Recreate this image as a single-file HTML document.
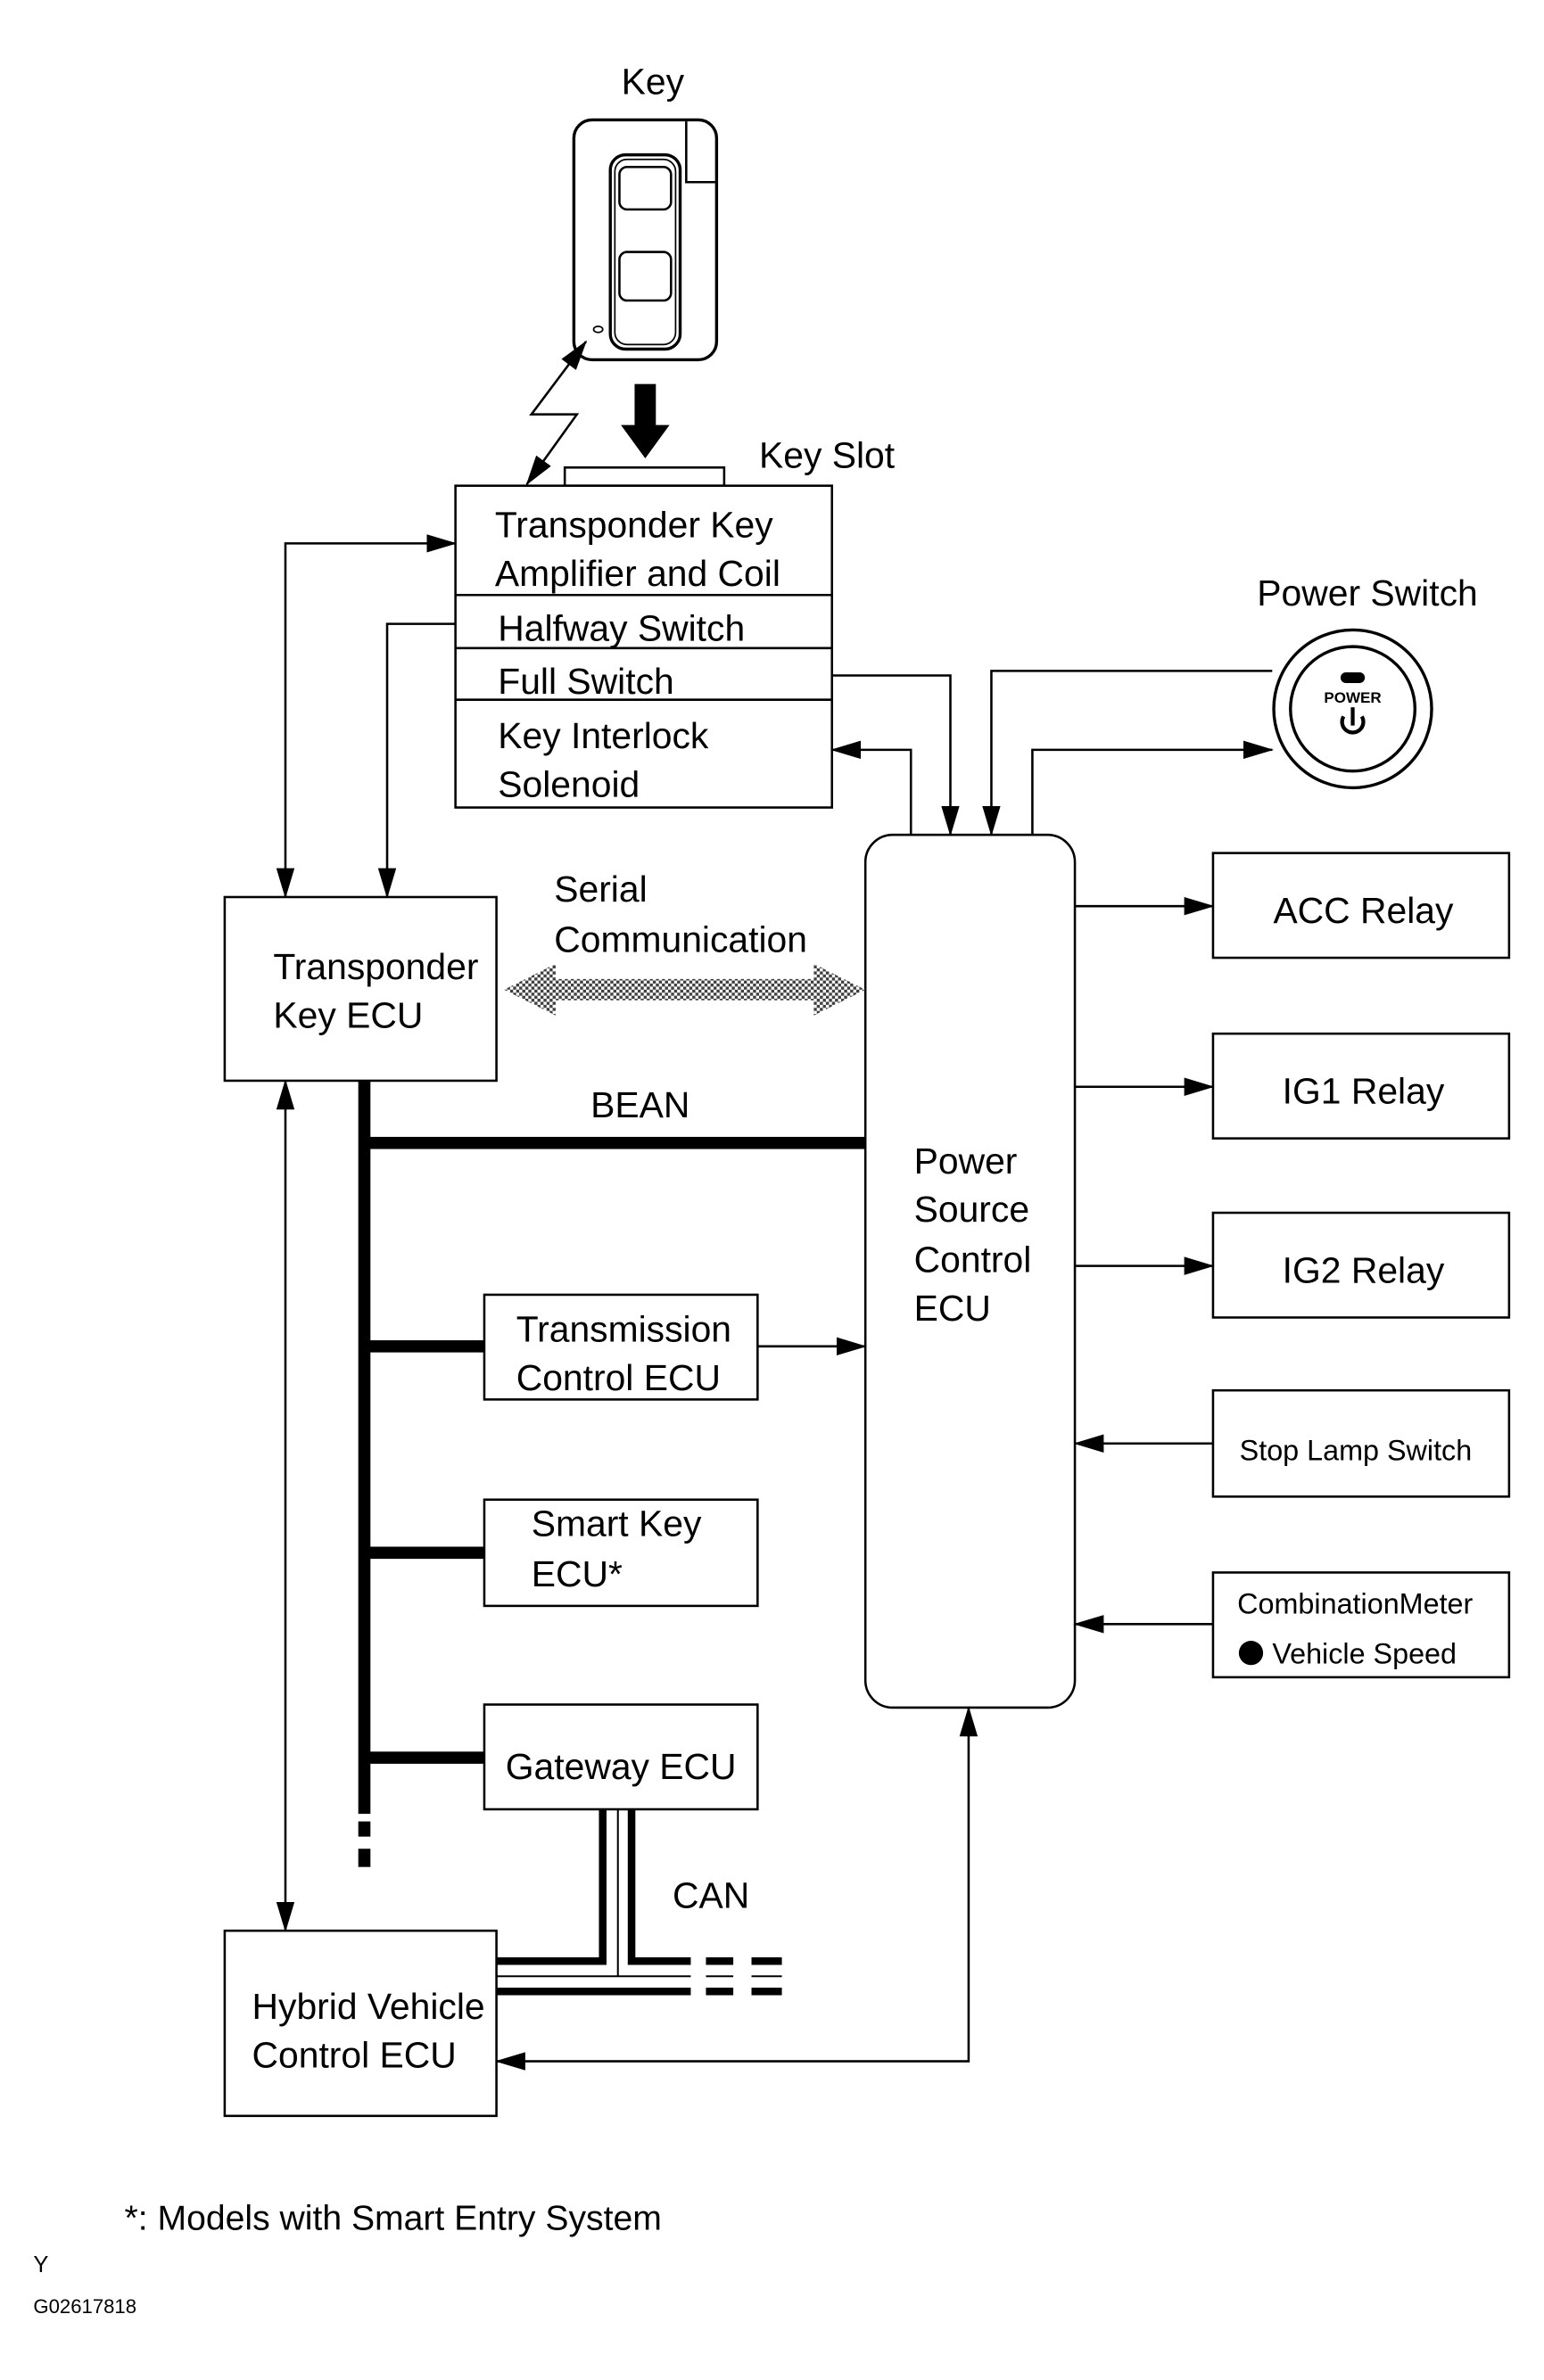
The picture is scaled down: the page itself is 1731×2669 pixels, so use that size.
<!DOCTYPE html>
<html><head><meta charset="utf-8"><style>
html,body{margin:0;padding:0;background:#fff}
svg{display:block}
text{font-family:"Liberation Sans",sans-serif;fill:#000}
</style></head><body>
<svg width="1731" height="2669" viewBox="0 0 1017 1568" preserveAspectRatio="none" xmlns="http://www.w3.org/2000/svg">
<defs>
<marker id="a" markerWidth="20" markerHeight="12" refX="19" refY="6" orient="auto" markerUnits="userSpaceOnUse"><path d="M0,0 L20,6 L0,12 Z" fill="#000"/></marker>
<marker id="s" markerWidth="20" markerHeight="12" refX="1" refY="6" orient="auto" markerUnits="userSpaceOnUse"><path d="M20,0 L0,6 L20,12 Z" fill="#000"/></marker>
<pattern id="dots" width="4" height="4" patternUnits="userSpaceOnUse"><rect width="4" height="4" fill="#fff"/><rect width="2" height="2" fill="#000"/><rect x="2" y="2" width="2" height="2" fill="#000"/></pattern>
</defs>
<g font-size="24">
<text x="430" y="62" text-anchor="middle">Key</text>
<rect x="378" y="79" width="94" height="158" rx="12" fill="#fff" stroke="#000" stroke-width="2"/>
<path d="M452,80 V120 H472" fill="none" stroke="#000" stroke-width="1.5"/>
<rect x="402" y="102" width="46" height="128" rx="10" fill="none" stroke="#000" stroke-width="2"/>
<rect x="405" y="105" width="40" height="122" rx="8" fill="none" stroke="#000" stroke-width="1"/>
<rect x="408" y="110" width="34" height="28" rx="5" fill="none" stroke="#000" stroke-width="1.5"/>
<rect x="408" y="166" width="34" height="32" rx="5" fill="none" stroke="#000" stroke-width="1.5"/>
<ellipse cx="394" cy="217" rx="3" ry="2" fill="none" stroke="#000"/>
<polyline points="347,319 380,273 350,273 386,225" fill="none" stroke="#000" stroke-width="1.5" marker-start="url(#s)" marker-end="url(#a)"/>
<rect x="418" y="253" width="14" height="30" fill="#000"/>
<path d="M409,280 L441,280 L425,302 Z" fill="#000"/>
<text x="500" y="308">Key Slot</text>
<rect x="372" y="308" width="105" height="12" fill="#fff" stroke="#000" stroke-width="1.5"/>
<rect x="300" y="320" width="248" height="212" fill="#fff" stroke="#000" stroke-width="1.5"/>
<line x1="300" y1="392" x2="548" y2="392" stroke="#000" stroke-width="1.5"/>
<line x1="300" y1="427" x2="548" y2="427" stroke="#000" stroke-width="1.5"/>
<line x1="300" y1="461" x2="548" y2="461" stroke="#000" stroke-width="1.5"/>
<text x="326" y="354">Transponder Key</text>
<text x="326" y="386">Amplifier and Coil</text>
<text x="328" y="422">Halfway Switch</text>
<text x="328" y="457">Full Switch</text>
<text x="328" y="493">Key Interlock</text>
<text x="328" y="525">Solenoid</text>
<text x="828" y="399">Power Switch</text>
<circle cx="891" cy="467" r="52" fill="#fff" stroke="#000" stroke-width="2"/>
<circle cx="891" cy="467" r="41" fill="#fff" stroke="#000" stroke-width="2"/>
<rect x="883" y="443" width="16" height="7" rx="3.5" fill="#000"/>
<text x="891" y="463" font-size="10" font-weight="bold" text-anchor="middle">POWER</text>
<path d="M885,472 A7,7 0 1 0 897,472" fill="none" stroke="#000" stroke-width="2.5"/>
<line x1="891" y1="466" x2="891" y2="478" stroke="#000" stroke-width="2.5"/>
<rect x="570" y="550" width="138" height="575" rx="18" fill="#fff" stroke="#000" stroke-width="1.5"/>
<text x="602" y="773">Power</text>
<text x="602" y="805">Source</text>
<text x="602" y="838">Control</text>
<text x="602" y="870">ECU</text>
<g fill="none" stroke="#000" stroke-width="1.5">
<polyline points="548,445 626,445 626,550" marker-end="url(#a)"/>
<polyline points="600,550 600,494 548,494" marker-end="url(#a)"/>
<polyline points="838,442 653,442 653,550" marker-end="url(#a)"/>
<polyline points="680,550 680,494 838,494" marker-end="url(#a)"/>
<polyline points="188,591 188,358 300,358" marker-start="url(#s)" marker-end="url(#a)"/>
<polyline points="300,411 255,411 255,591" marker-end="url(#a)"/>
<line x1="188" y1="712" x2="188" y2="1272" marker-start="url(#s)" marker-end="url(#a)"/>
<polyline points="638,1125 638,1358 327,1358" marker-start="url(#s)" marker-end="url(#a)"/>
<line x1="499" y1="887" x2="570" y2="887" marker-end="url(#a)"/>
<line x1="708" y1="597" x2="799" y2="597" marker-end="url(#a)"/>
<line x1="708" y1="716" x2="799" y2="716" marker-end="url(#a)"/>
<line x1="708" y1="834" x2="799" y2="834" marker-end="url(#a)"/>
<line x1="799" y1="951" x2="708" y2="951" marker-end="url(#a)"/>
<line x1="799" y1="1070" x2="708" y2="1070" marker-end="url(#a)"/>
</g>
<rect x="148" y="591" width="179" height="121" fill="#fff" stroke="#000" stroke-width="1.5"/>
<text x="180" y="645">Transponder</text>
<text x="180" y="677">Key ECU</text>
<text x="365" y="594">Serial</text>
<text x="365" y="627">Communication</text>
<path d="M332,652 L366,635 L366,645 L536,645 L536,635 L570,652 L536,669 L536,659 L366,659 L366,669 Z" fill="url(#dots)" opacity="0.75"/>
<rect x="236" y="712" width="8" height="483" fill="#000"/>
<rect x="236" y="1200" width="8" height="10" fill="#000"/>
<rect x="236" y="1218" width="8" height="12" fill="#000"/>
<rect x="240" y="749" width="330" height="8" fill="#000"/>
<text x="389" y="736">BEAN</text>
<rect x="240" y="883" width="79" height="8" fill="#000"/>
<rect x="240" y="1019" width="79" height="8" fill="#000"/>
<rect x="240" y="1154" width="79" height="8" fill="#000"/>
<rect x="319" y="853" width="180" height="69" fill="#fff" stroke="#000" stroke-width="1.5"/>
<text x="340" y="884">Transmission</text>
<text x="340" y="916">Control ECU</text>
<rect x="319" y="988" width="180" height="70" fill="#fff" stroke="#000" stroke-width="1.5"/>
<text x="350" y="1012">Smart Key</text>
<text x="350" y="1045">ECU*</text>
<rect x="319" y="1123" width="180" height="69" fill="#fff" stroke="#000" stroke-width="1.5"/>
<text x="333" y="1172">Gateway ECU</text>
<g fill="none" stroke="#000">
<polyline points="397,1192 397,1292 327,1292" stroke-width="5"/>
<polyline points="416,1192 416,1292 455,1292" stroke-width="5"/>
<line x1="407" y1="1192" x2="407" y2="1302" stroke-width="1.2"/>
<line x1="327" y1="1302" x2="455" y2="1302" stroke-width="1.2"/>
<line x1="327" y1="1312" x2="455" y2="1312" stroke-width="5"/>
<line x1="465" y1="1292" x2="483" y2="1292" stroke-width="5"/>
<line x1="495" y1="1292" x2="515" y2="1292" stroke-width="5"/>
<line x1="465" y1="1302" x2="483" y2="1302" stroke-width="1.2"/>
<line x1="495" y1="1302" x2="515" y2="1302" stroke-width="1.2"/>
<line x1="465" y1="1312" x2="483" y2="1312" stroke-width="5"/>
<line x1="495" y1="1312" x2="515" y2="1312" stroke-width="5"/>
</g>
<text x="443" y="1257">CAN</text>
<rect x="148" y="1272" width="179" height="122" fill="#fff" stroke="#000" stroke-width="1.5"/>
<text x="166" y="1330">Hybrid Vehicle</text>
<text x="166" y="1362">Control ECU</text>
<rect x="799" y="562" width="195" height="69" fill="#fff" stroke="#000" stroke-width="1.5"/>
<text x="898" y="608" text-anchor="middle">ACC Relay</text>
<rect x="799" y="681" width="195" height="69" fill="#fff" stroke="#000" stroke-width="1.5"/>
<text x="898" y="727" text-anchor="middle">IG1 Relay</text>
<rect x="799" y="799" width="195" height="69" fill="#fff" stroke="#000" stroke-width="1.5"/>
<text x="898" y="845" text-anchor="middle">IG2 Relay</text>
<rect x="799" y="916" width="195" height="70" fill="#fff" stroke="#000" stroke-width="1.5"/>
<text x="893" y="962" font-size="19" text-anchor="middle">Stop Lamp Switch</text>
<rect x="799" y="1036" width="195" height="69" fill="#fff" stroke="#000" stroke-width="1.5"/>
<text x="815" y="1063" font-size="19">CombinationMeter</text>
<circle cx="824" cy="1089" r="8" fill="#000"/>
<text x="838" y="1096" font-size="19">Vehicle Speed</text>
<text x="82" y="1469" font-size="23">*: Models with Smart Entry System</text>
<text x="22" y="1497" font-size="15">Y</text>
<text x="22" y="1524" font-size="13">G02617818</text>
</g>
</svg>
</body></html>
